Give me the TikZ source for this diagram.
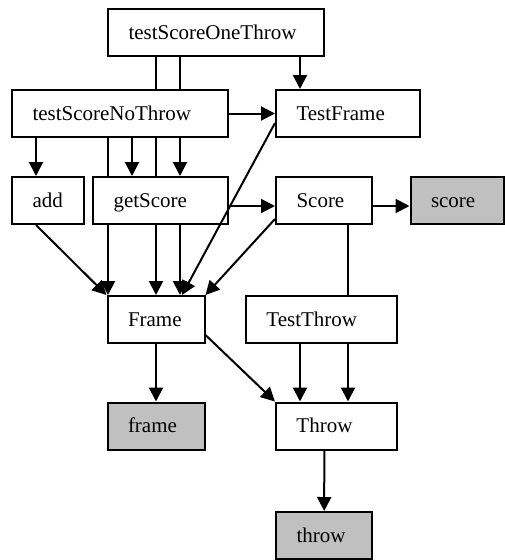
\documentclass[tikz,border=0pt]{standalone}
\usepackage{fontspec}
\setmainfont{Liberation Serif}
\usetikzlibrary{arrows.meta,backgrounds}
\definecolor{silver}{RGB}{192,192,192}
\begin{document}
\begin{tikzpicture}[x=1pt,y=-1pt,
  box/.style 2 args={draw=black, line width=2pt, fill=#2,
    minimum height=47pt, inner ysep=0pt, inner xsep=20.5pt,
    text width=#1-41pt, align=left, text height=13pt, text depth=0pt,
    font=\fontsize{21pt}{25pt}\selectfont},
  plain/.style={box={#1}{white}},
  leaf/.style={box={#1}{silver}},
  arr/.style={line width=2pt, -{Triangle[length=14pt,width=14pt]}}]
\useasboundingbox (0,0) rectangle (505,560);

% nodes
\node[plain=216pt] (tsot) at (216,32.5) {testScoreOneThrow};
\node[plain=216pt] (tsnt) at (120,113.5) {testScoreNoThrow};
\node[plain=144pt] (tf) at (348,113.5) {TestFrame};
\node[plain=72pt] (add) at (48,200.5) {add};
\node[plain=135pt] (gs) at (160.5,200.5) {getScore};
\node[plain=96pt] (sc) at (324,200.5) {Score};
\node[leaf=93pt] (scg) at (457,200.5) {score};
\node[plain=97pt] (fr) at (156,319.5) {Frame};
\node[plain=150.7pt] (tt) at (321.3,319.5) {TestThrow};
\node[leaf=97pt] (frg) at (156,426) {frame};
\node[plain=120.7pt] (th) at (336.3,426) {Throw};
\node[leaf=96.3pt] (thg) at (324.2,535.5) {throw};

% dependency edges, running behind the boxes
\begin{scope}[on background layer]
\draw[arr] ([xshift=84pt]tsot.south) -- ([xshift=-48pt]tf.north);
\draw[arr] ([xshift=-36pt]tsot.south) -- ([xshift=19.5pt]gs.north);
\draw[arr] ([xshift=-60pt]tsot.south) -- (fr.north);
\draw[arr] (tsnt.east) -- (tf.west);
\draw[arr] ([xshift=-84pt]tsnt.south) -- ([xshift=-12pt]add.north);
\draw[arr] ([xshift=12pt]tsnt.south) -- ([xshift=-28.5pt]gs.north);
\draw[arr] ([xshift=-12pt]tsnt.south) -- ([xshift=-48pt]fr.north);
\draw[arr] ([yshift=-5.5pt]gs.east) -- ([yshift=-5.5pt]sc.west);
\draw[arr] ([xshift=19.5pt]gs.south) -- ([xshift=24pt]fr.north);
\draw[arr] ([xshift=-12pt]add.south) -- (fr.north west);
\draw[arr] ([yshift=-18.5pt]sc.west) -- (fr.north east);
\draw[arr] ([yshift=-5.5pt]sc.east) -- ([yshift=-5.5pt]scg.west);
\draw[arr] ([xshift=24pt]sc.south) -- ([xshift=11.7pt]th.north);
\draw[arr] ([xshift=-21.3pt]tt.south) -- ([xshift=-36.3pt]th.north);
\draw[arr] (fr.south) -- (frg.north);
\draw[arr] ([yshift=-15.5pt]fr.east) -- (th.north west);
\draw[arr] ([xshift=-12pt]th.south) -- (thg.north);
\end{scope}

% this edge crosses over the getScore box
\draw[arr] ([yshift=-9.5pt]tf.west) -- ([xshift=26pt]fr.north);
\end{tikzpicture}
\end{document}
